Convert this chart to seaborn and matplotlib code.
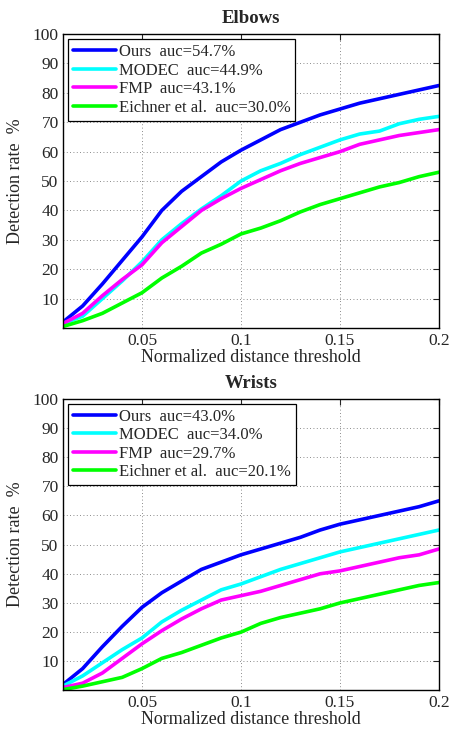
import numpy as np
import pandas as pd
import matplotlib
matplotlib.use("Agg")
import matplotlib.pyplot as plt
import seaborn as sns

# thresholds 0.01 .. 0.2
thresholds = [0.01, 0.02, 0.03, 0.04, 0.05, 0.06, 0.07, 0.08, 0.09, 0.10,
              0.11, 0.12, 0.13, 0.14, 0.15, 0.16, 0.17, 0.18, 0.19, 0.20]

methods = ["Ours", "MODEC", "FMP", "Eichner et al."]
colors = ["#0000ff", "#00ffff", "#ff00ff", "#00ff00"]

elbow_auc = ["54.7", "44.9", "43.1", "30.0"]
elbow_ours = [2, 7.5, 15, 23, 31, 40, 46.5, 51.5, 56.5, 60.5, 64, 67.5, 70, 72.5, 74.5, 76.5, 78, 79.5, 81, 82.5]
elbow_modec = [1.5, 4, 10, 16, 22.5, 30, 35.5, 40.5, 45, 50, 53.5, 56, 59, 61.5, 64, 66, 67, 69.5, 71, 72]
elbow_fmp = [1.5, 5, 11, 16.5, 21.5, 29, 34.5, 40, 44, 47.5, 50.5, 53.5, 56, 58, 60, 62.5, 64, 65.5, 66.5, 67.5]
elbow_eichner = [0.5, 2.5, 5, 8.5, 12, 17, 21, 25.5, 28.5, 32, 34, 36.5, 39.5, 42, 44, 46, 48, 49.5, 51.5, 53]

wrist_auc = ["43.0", "34.0", "29.7", "20.1"]
wrist_ours = [2, 7.5, 15, 22, 28.5, 33.5, 37.5, 41.5, 44, 46.5, 48.5, 50.5, 52.5, 55, 57, 58.5, 60, 61.5, 63, 65]
wrist_modec = [1.5, 5, 9.5, 14, 18, 23.5, 27.5, 31, 34.5, 36.5, 39, 41.5, 43.5, 45.5, 47.5, 49, 50.5, 52, 53.5, 55]
wrist_fmp = [1, 2.5, 6, 11, 16, 20.5, 24.5, 28, 31, 32.5, 34, 36, 38, 40, 41, 42.5, 44, 45.5, 46.5, 48.5]
wrist_eichner = [0.3, 1.5, 3, 4.5, 7.5, 11, 13, 15.5, 18, 20, 23, 25, 26.5, 28, 30, 31.5, 33, 34.5, 36, 37]

sns.set_style("white")
plt.rcParams['font.family'] = ['Liberation Serif', 'DejaVu Serif']


def long_df(series, aucs):
    rows = []
    for m, a, vals in zip(methods, aucs, series):
        lab = f"{m}  auc={a}%"
        for t, v in zip(thresholds, vals):
            rows.append({"thr": t, "rate": v, "method": lab})
    return pd.DataFrame(rows)


def draw(ax, df, title):
    labels = list(df["method"].unique())
    sns.lineplot(data=df, x="thr", y="rate", hue="method", hue_order=labels,
                 palette=colors, linewidth=2.6, ax=ax)
    ax.set_xlim(0.01, 0.2)
    ax.set_ylim(0, 100)
    ax.set_xticks([0.05, 0.1, 0.15, 0.2])
    ax.set_xticklabels(["0.05", "0.1", "0.15", "0.2"])
    ax.set_yticks(range(10, 101, 10))
    ax.grid(True, linestyle=(0, (1, 3)), color="#666666", linewidth=0.6)
    ax.tick_params(direction="in", top=True, right=True, labelsize=12.5,
                   length=4)
    ax.tick_params(axis="x", pad=3.5)
    ax.tick_params(axis="y", pad=3)
    for s in ax.spines.values():
        s.set_linewidth(1.0)
        s.set_color("black")
    ax.set_title(title, fontsize=13.5, fontweight="bold", pad=8)
    ax.set_xlabel("Normalized distance threshold", fontsize=13, labelpad=0)
    ax.set_ylabel("Detection rate  %", fontsize=13, labelpad=6)
    leg = ax.legend(loc="upper left", fontsize=12, frameon=True, fancybox=False,
                    handlelength=2.6, handletextpad=0.15, borderpad=0.3,
                    labelspacing=0.15, borderaxespad=0.3)
    leg.get_frame().set_edgecolor("black")
    leg.get_frame().set_linewidth(0.9)
    leg.get_frame().set_alpha(1)


fig = plt.figure(figsize=(4.52, 7.33), dpi=100)
ax1 = fig.add_axes([0.139, 0.5525, 0.832, 0.401])
ax2 = fig.add_axes([0.139, 0.058, 0.832, 0.398])

draw(ax1, long_df([elbow_ours, elbow_modec, elbow_fmp, elbow_eichner], elbow_auc), "Elbows")
draw(ax2, long_df([wrist_ours, wrist_modec, wrist_fmp, wrist_eichner], wrist_auc), "Wrists")

fig.savefig("out.png", dpi=100)
